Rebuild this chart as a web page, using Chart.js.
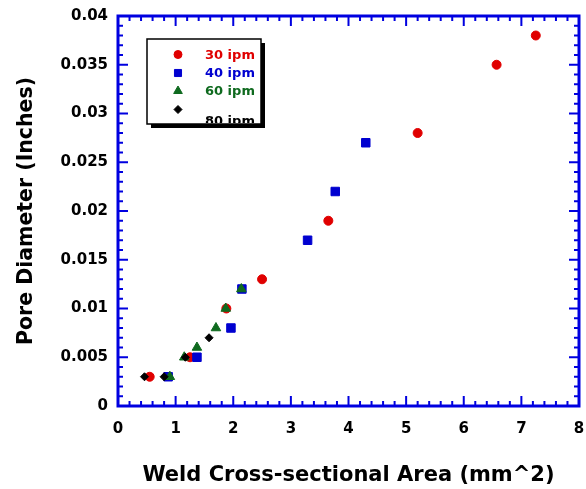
<!DOCTYPE html>
<html>
<head>
<meta charset="utf-8">
<script src="https://cdn.jsdelivr.net/npm/chart.js@4"></script>
<style>
  body { margin: 0; background: #fff; }
  canvas { display: block; }
</style>
</head>
<body>
<canvas id="mycanvas" width="586" height="489"></canvas>
<script>
// weld area (mm^2) vs pore diameter (in), one pair of arrays per travel speed
const x30 = [0.55, 1.25, 1.88, 2.5, 3.65, 5.2, 6.57, 7.25];
const y30 = [0.003, 0.005, 0.010, 0.013, 0.019, 0.028, 0.035, 0.038];
const x40 = [0.87, 1.37, 1.96, 2.15, 3.29, 3.77, 4.3];
const y40 = [0.003, 0.005, 0.008, 0.012, 0.017, 0.022, 0.027];
const x60 = [0.9, 1.15, 1.37, 1.7, 1.87, 2.14];
const y60 = [0.003, 0.005, 0.006, 0.008, 0.010, 0.012];
const x80 = [0.46, 0.8, 1.17, 1.58];
const y80 = [0.003, 0.003, 0.005, 0.007];

const seriesLabels = ['30 ipm', '40 ipm', '60 ipm', '80 ipm'];
const seriesColors = ['#e00000', '#0000d0', '#0f6a1f', '#000000'];
const seriesStyles = ['circle', 'rect', 'triangle', 'rectRot'];

const xTitle = 'Weld Cross-sectional Area (mm^2)';
const yTitle = 'Pore Diameter (Inches)';

const axisBlue = '#0000e0';
const fontFam = '"DejaVu Sans", sans-serif';

const toPoints = function (xs, ys) {
    return xs.map((x, i) => ({x: x, y: ys[i]}));
};

// blue box round the plot with inward major/minor ticks on all four sides
const framePlugin = {
    id: 'frame',
    beforeDatasetsDraw(chart) {
        const ctx = chart.ctx;
        const a = chart.chartArea;
        const xs = chart.scales.x, ys = chart.scales.y;
        ctx.save();
        ctx.strokeStyle = axisBlue;
        ctx.lineWidth = 2;
        ctx.beginPath();
        for (let k = 0; k <= 40; k++) {
            const px = xs.getPixelForValue(k * 0.2);
            const len = k % 5 === 0 ? 10 : 5;
            ctx.moveTo(px, a.bottom); ctx.lineTo(px, a.bottom - len);
            ctx.moveTo(px, a.top); ctx.lineTo(px, a.top + len);
        }
        for (let k = 0; k <= 40; k++) {
            const py = ys.getPixelForValue(k * 0.001);
            const len = k % 5 === 0 ? 10 : 5;
            ctx.moveTo(a.left, py); ctx.lineTo(a.left + len, py);
            ctx.moveTo(a.right, py); ctx.lineTo(a.right - len, py);
        }
        ctx.stroke();
        ctx.lineWidth = 3;
        ctx.strokeRect(a.left, a.top, a.right - a.left, a.bottom - a.top);
        ctx.restore();
    }
};

// boxed legend with drop shadow, as in the original plot
const legendPlugin = {
    id: 'boxLegend',
    afterDraw(chart) {
        const ctx = chart.ctx;
        const bx = 147, by = 39, bw = 114, bh = 85;
        const rowY = [54.5, 73, 91, 109.5];
        const textY = [56, 74, 92, 122];
        ctx.save();
        ctx.fillStyle = '#000';
        ctx.fillRect(bx + 4, by + 4, bw, bh);
        ctx.fillStyle = '#fff';
        ctx.fillRect(bx, by, bw, bh);
        ctx.strokeStyle = '#000';
        ctx.lineWidth = 1.5;
        ctx.strokeRect(bx, by, bw, bh);
        for (let i = 0; i < seriesLabels.length; i++) {
            ctx.fillStyle = seriesColors[i];
            ctx.strokeStyle = seriesColors[i];
            ctx.lineWidth = 1;
            Chart.helpers.drawPoint(ctx, {
                pointStyle: seriesStyles[i],
                radius: [4, 5, 5, 4][i],
                rotation: 0,
                borderWidth: 1
            }, 178, rowY[i]);
        }
        ctx.beginPath();
        ctx.rect(bx + 1, by + 1, bw - 2, bh - 2);
        ctx.clip();
        ctx.font = 'bold 13px ' + fontFam;
        ctx.textBaseline = 'middle';
        ctx.textAlign = 'left';
        for (let i = 0; i < seriesLabels.length; i++) {
            ctx.fillStyle = seriesColors[i];
            ctx.fillText(seriesLabels[i], 205, textY[i]);
        }
        ctx.restore();
    }
};

const loadChart = function () {
    const sets = [[x30, y30], [x40, y40], [x60, y60], [x80, y80]];
    const radii = [4.5, 6, 5.5, 4];
    const chartDataSet = {
        type: 'scatter',
        data: {
            datasets: sets.map((s, i) => ({
                label: seriesLabels[i],
                data: toPoints(s[0], s[1]),
                pointStyle: seriesStyles[i],
                pointRadius: radii[i],
                pointBorderWidth: 1,
                backgroundColor: seriesColors[i],
                borderColor: seriesColors[i],
                order: 4 - i
            }))
        },
        options: {
            responsive: false,
            animation: false,
            devicePixelRatio: 1,
            layout: {padding: {top: 16, right: 4, left: 0, bottom: 0}},
            plugins: {
                legend: {display: false},
                tooltip: {enabled: false}
            },
            scales: {
                x: {
                    type: 'linear',
                    min: 0,
                    max: 8,
                    grid: {display: false, drawTicks: false},
                    border: {display: false},
                    ticks: {
                        stepSize: 1,
                        padding: 14,
                        color: '#000',
                        font: {family: fontFam, size: 15, weight: 'bold'}
                    },
                    title: {
                        display: true,
                        text: xTitle,
                        color: '#000',
                        padding: {top: 0, bottom: 1},
                        font: {family: fontFam, size: 21, weight: 'bold'}
                    },
                    afterFit(scale) {
                        scale.height = 83;
                        scale.paddingLeft = 0;
                        scale.paddingRight = 0;
                    }
                },
                y: {
                    type: 'linear',
                    min: 0,
                    max: 0.04,
                    grid: {display: false, drawTicks: false},
                    border: {display: false},
                    ticks: {
                        stepSize: 0.005,
                        padding: 10,
                        color: '#000',
                        font: {family: fontFam, size: 15, weight: 'bold'},
                        callback: v => String(+v.toFixed(3))
                    },
                    title: {
                        display: true,
                        text: yTitle,
                        color: '#000',
                        padding: {top: 14, bottom: 0},
                        font: {family: fontFam, size: 20.5, weight: 'bold'}
                    },
                    afterFit(scale) {
                        scale.width = 118;
                        scale.paddingTop = 0;
                        scale.paddingBottom = 0;
                    }
                }
            }
        },
        plugins: [framePlugin, legendPlugin]
    };

    const ctx = document.getElementById('mycanvas').getContext('2d');
    new Chart(ctx, chartDataSet);
};

loadChart();
</script>
</body>
</html>
